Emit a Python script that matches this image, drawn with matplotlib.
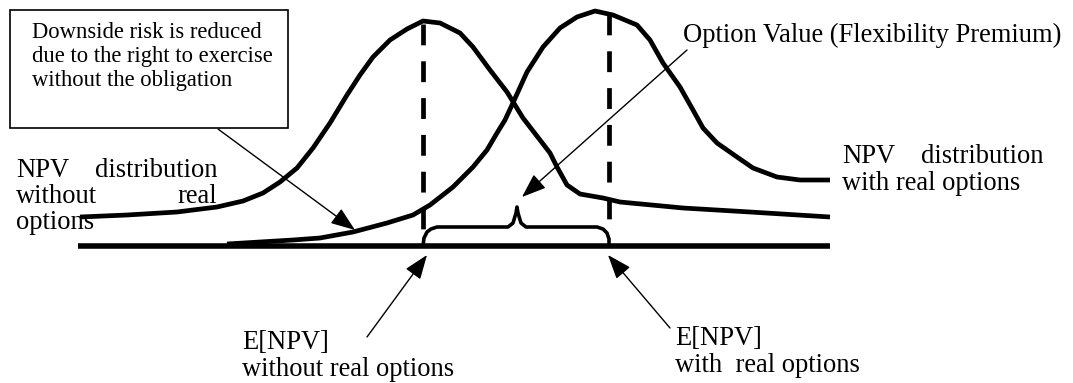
import numpy as np
import matplotlib.pyplot as plt

# canvas is in pixel units: x to the right, y downward
W, H = 1073, 383

# NPV distribution without real options (left curve)
npv_plain_x = [80, 127, 177, 217, 243, 263, 280, 297, 313, 330, 347, 360, 373, 390,
               407, 423, 440, 460, 473, 490, 507, 523, 540, 550, 557, 567, 580, 603,
               620, 683, 750, 830]
npv_plain_y = [217, 215, 212, 207, 201, 193, 182, 168, 148, 123, 95, 75, 57, 40,
               29, 21, 23, 33, 47, 70, 92, 118, 140, 153, 167, 185, 194, 198,
               202, 208, 212, 217]

# NPV distribution with real options (right curve)
npv_opt_x = [227, 293, 320, 353, 387, 413, 430, 453, 473, 487, 497, 505, 512, 527,
             543, 560, 577, 595, 613, 637, 650, 663, 680, 693, 703, 717, 737, 753,
             777, 800, 830]
npv_opt_y = [244, 240, 238, 232, 223, 215, 205, 187, 167, 150, 133, 120, 105, 72,
             47, 28, 17, 11, 15, 25, 40, 63, 87, 110, 128, 143, 157, 168,
             177, 180, 180]

# horizontal axis
axis_x = [78, 830]
axis_y = [246, 246]

# expected values (dashed markers)
e_plain_x, e_plain_top, e_plain_bottom = 423, 24, 232
e_opt_x, e_opt_top, e_opt_bottom = 609, 14, 222

# brace marking the option value
brace_x = [423, 424, 427, 431, 437, 508, 513, 516, 517, 518, 521, 526, 597, 603, 607, 609, 609]
brace_y = [246, 238, 232, 229, 227, 227, 223, 213, 207, 213, 223, 227, 227, 229, 233, 239, 246]

# arrows: (tail, tip)
arrows = [
    ((218, 129), (355, 230)),
    ((687, 50), (522, 197)),
    ((367, 337), (427, 255)),
    ((670, 328), (608, 255)),
]

# box
box_x0, box_y0, box_x1, box_y1 = 10, 10, 288, 128
box_lines = ["Downside risk is reduced",
             "due to the right to exercise",
             "without the obligation"]
box_baselines = [38, 62, 86]

# text pieces: (x, baseline, text, ha)
labels = [
    (16, 177, "NPV", "left"),
    (217, 177, "distribution", "right"),
    (16, 203, "without", "left"),
    (217, 203, "real", "right"),
    (16, 229, "options", "left"),
    (842, 163, "NPV", "left"),
    (1043, 163, "distribution", "right"),
    (842, 190, "with real options", "left"),
    (683, 42, "Option Value (Flexibility Premium)", "left"),
    (242, 349, "E[NPV]", "left"),
    (242, 376, "without real options", "left"),
    (675, 345, "E[NPV]", "left"),
    (675, 372, "with  real options", "left"),
]

plt.rcParams['font.family'] = ['Liberation Serif', 'DejaVu Serif']
plt.rcParams['lines.scale_dashes'] = False

fig = plt.figure(figsize=(W / 100, H / 100), dpi=100)
ax = fig.add_axes([0, 0, 1, 1])
ax.set_xlim(0, W)
ax.set_ylim(H, 0)
ax.axis('off')

ax.plot(axis_x, axis_y, color='black', lw=4.0, solid_capstyle='butt')
ax.plot(npv_plain_x, npv_plain_y, color='black', lw=3.4,
        solid_joinstyle='round', solid_capstyle='butt')
ax.plot(npv_opt_x, npv_opt_y, color='black', lw=3.4,
        solid_joinstyle='round', solid_capstyle='butt')

dash = (0, (15, 11.5))
ax.plot([e_plain_x, e_plain_x], [e_plain_top, e_plain_bottom], color='black',
        lw=3.4, linestyle=dash, dash_capstyle='butt')
ax.plot([e_opt_x, e_opt_x], [e_opt_top, e_opt_bottom], color='black',
        lw=3.4, linestyle=dash, dash_capstyle='butt')

ax.plot(brace_x, brace_y, color='black', lw=2.6, solid_joinstyle='round')

for tail, tip in arrows:
    ax.annotate('', xy=tip, xytext=tail,
                arrowprops=dict(arrowstyle='-|>,head_length=0.75,head_width=0.28',
                                mutation_scale=20, lw=1.0, color='black',
                                shrinkA=0, shrinkB=0))

ax.add_patch(plt.Rectangle((box_x0, box_y0), box_x1 - box_x0, box_y1 - box_y0,
                           fill=False, edgecolor='black', lw=1.2))
for line, base in zip(box_lines, box_baselines):
    ax.text(32, base, line, fontsize=16.3, ha='left', va='baseline')

for x, base, txt, ha in labels:
    ax.text(x, base, txt, fontsize=19.1, ha=ha, va='baseline')

fig.savefig('out.png', dpi=100)
